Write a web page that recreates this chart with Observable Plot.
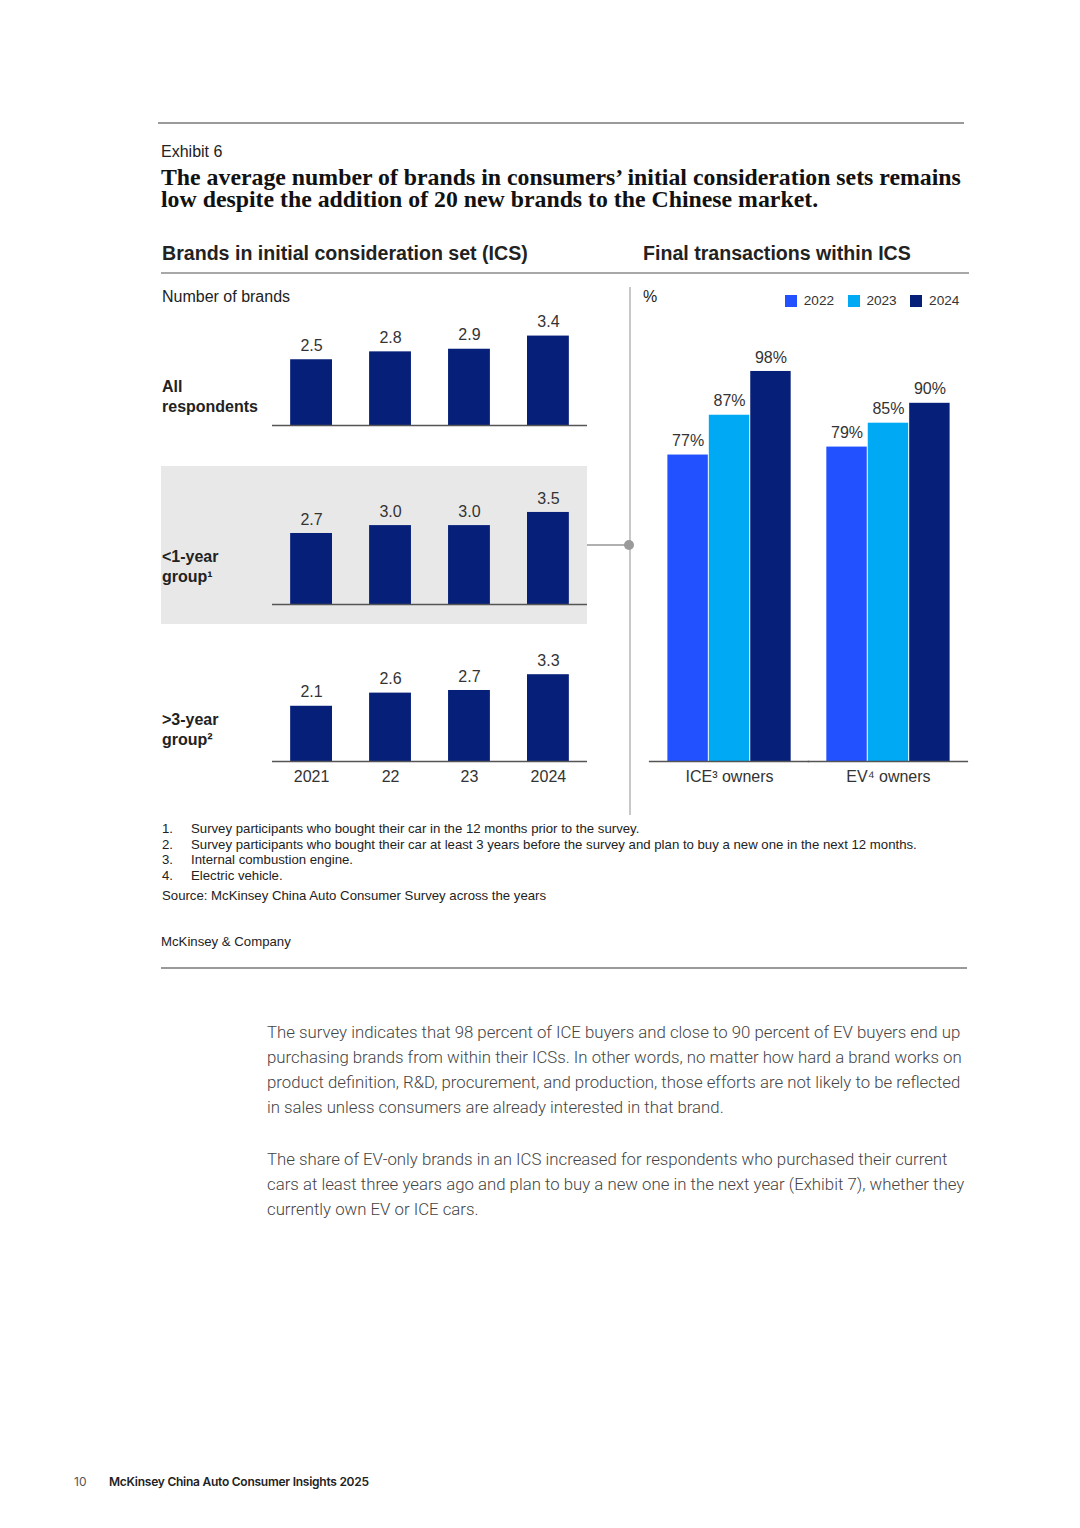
<!DOCTYPE html>
<html>
<head>
<meta charset="utf-8">
<script src="https://cdn.jsdelivr.net/npm/d3@7"></script>
<script src="https://cdn.jsdelivr.net/npm/@observablehq/plot@0.6"></script>
<style>
  html, body { margin: 0; padding: 0; background: #fff; }
  #page { position: relative; width: 1080px; height: 1528px; overflow: hidden; background: #fff;
          font-family: "Liberation Sans", Arial, sans-serif; color: #222; }
  .abs { position: absolute; white-space: nowrap; }
  .rule { position: absolute; background: #9a9a9a; }
  .hdr { font-size: 19.6px; font-weight: bold; line-height: 24px; color: #222; }
  .row { font-size: 16px; font-weight: bold; line-height: 20px; color: #222; }
  .fn { font-size: 13.2px; line-height: 15.6px; color: #222; }
  .body { font-family: Roboto, "Open Sans", sans-serif; font-weight: 300; font-size: 16.8px; line-height: 25px; color: #444; }
</style>
</head>
<body>
<div id="page">
  <div class="rule" style="left:158px; top:122px; width:806px; height:1.5px;"></div>
  <div class="abs" style="left:161px; top:142px; font-size:16px; line-height:20px;">Exhibit 6</div>
  <div class="abs" style="left:161px; top:166px; font-family:'Liberation Serif','DejaVu Serif',serif; font-weight:bold; font-size:23.8px; line-height:22px; color:#111;">The average number of brands in consumers’ initial consideration sets remains<br>low despite the addition of 20 new brands to the Chinese market.</div>

  <div class="abs hdr" style="left:162px; top:241px;">Brands in initial consideration set (ICS)</div>
  <div class="abs hdr" style="left:643px; top:241px;">Final transactions within ICS</div>
  <div class="rule" style="left:161px; top:272px; width:808px; height:2px; background:#a8a8a8;"></div>

  <div class="abs" style="left:162px; top:287px; font-size:16px; line-height:20px;">Number of brands</div>
  <div class="abs" style="left:643px; top:287px; font-size:16px; line-height:20px;">%</div>

  <div style="position:absolute; left:161px; top:466px; width:426px; height:158px; background:#e8e8e8;"></div>

  <div class="abs row" style="left:162px; top:377px;">All<br>respondents</div>
  <div class="abs row" style="left:162px; top:547px;">&lt;1-year<br>group¹</div>
  <div class="abs row" style="left:162px; top:710px;">&gt;3-year<br>group²</div>

  <div style="position:absolute; left:629px; top:287px; width:1.5px; height:528px; background:#c8c8c8;"></div>
  <div style="position:absolute; left:587px; top:544px; width:42px; height:1.5px; background:#b0b0b0;"></div>
  <div style="position:absolute; left:624px; top:540px; width:10px; height:10px; border-radius:50%; background:#9a9a9a;"></div>

  <div id="c1" style="position:absolute; left:272px; top:300px;"></div>
  <div id="c2" style="position:absolute; left:272px; top:479px;"></div>
  <div id="c3" style="position:absolute; left:272px; top:636px;"></div>
  <div id="cr" style="position:absolute; left:651px; top:300px;"></div>
  <div id="legend" style="position:absolute; left:785px; top:293px;"></div>

  <div class="abs fn" style="left:162px; top:821px;">1.<br>2.<br>3.<br>4.</div>
  <div class="abs fn" style="left:191px; top:821px;">Survey participants who bought their car in the 12 months prior to the survey.<br>Survey participants who bought their car at least 3 years before the survey and plan to buy a new one in the next 12 months.<br>Internal combustion engine.<br>Electric vehicle.</div>
  <div class="abs fn" style="left:162px; top:888px;">Source: McKinsey China Auto Consumer Survey across the years</div>
  <div class="abs fn" style="left:161px; top:934px;">McKinsey &amp; Company</div>
  <div class="rule" style="left:161px; top:967px; width:806px; height:1.5px;"></div>

  <div class="abs body" style="left:267px; top:1020px;">The survey indicates that 98 percent of ICE buyers and close to 90 percent of EV buyers end up<br>purchasing brands from within their ICSs. In other words, no matter how hard a brand works on<br>product definition, R&amp;D, procurement, and production, those efforts are not likely to be reflected<br>in sales unless consumers are already interested in that brand.</div>
  <div class="abs body" style="left:267px; top:1147px;">The share of EV-only brands in an ICS increased for respondents who purchased their current<br>cars at least three years ago and plan to buy a new one in the next year (Exhibit 7), whether they<br>currently own EV or ICE cars.</div>

  <div class="abs" style="left:74px; top:1474px; font-family:Inter,'Noto Sans',sans-serif; font-size:12px; line-height:16px; color:#555;">10</div>
  <div class="abs" style="left:109px; top:1474px; font-family:Inter,'Noto Sans',sans-serif; font-weight:600; font-size:12px; line-height:16px; color:#222; letter-spacing:-0.25px;">McKinsey China Auto Consumer Insights 2025</div>
</div>
<script>
// ---- Data ----
const yearsLeft = ["2021", "22", "23", "2024"];
const allRespondents = [2.5, 2.8, 2.9, 3.4];
const lessThan1Year = [2.7, 3.0, 3.0, 3.5];
const moreThan3Year = [2.1, 2.6, 2.7, 3.3];

const ownerGroups = ["ICE", "EV"];
const ownerGroupLabels = ["ICE³ owners", "EV⁴ owners"];
const yearsRight = ["2022", "2023", "2024"];
const iceOwners = [77, 87, 98];
const evOwners = [79, 85, 90];

const navy = "#061f79";
const yearColors = ["#2251ff", "#00a9f4", "#061f79"];
const fontFamily = "'Liberation Sans', Arial, sans-serif";

function smallBars(values, showAxis) {
  const inner = 125;
  const mb = showAxis ? 32 : 2;
  const data = yearsLeft.map((y, i) => ({year: y, value: values[i]}));
  return Plot.plot({
    width: 315, height: inner + mb,
    marginTop: 0, marginBottom: mb, marginLeft: 0, marginRight: 0,
    style: {background: "transparent", fontFamily, fontSize: "16px", color: "#333", overflow: "visible"},
    x: {domain: yearsLeft, paddingInner: 0.47, paddingOuter: 0.23, round: false, axis: showAxis ? "bottom" : null, tickSize: 0, tickPadding: 9, label: null},
    y: {domain: [0, 4], range: [inner, inner - 105.2], axis: null},
    marks: [
      Plot.barY(data, {x: "year", y: "value", fill: navy}),
      Plot.ruleY([0], {stroke: "#555", strokeWidth: 1.5}),
      Plot.text(data, {x: "year", y: "value", text: d => d.value.toFixed(1), dy: -14, fill: "#333", fontSize: 16})
    ]
  });
}

document.getElementById("c1").append(smallBars(allRespondents, false));
document.getElementById("c2").append(smallBars(lessThan1Year, false));
document.getElementById("c3").append(smallBars(moreThan3Year, true));

const rightData = ownerGroups.flatMap((g, gi) =>
  yearsRight.map((y, i) => ({group: g, year: y, value: (gi === 0 ? iceOwners : evOwners)[i]})));

const innerR = 461;
const right = Plot.plot({
  width: 315, height: innerR + 40,
  marginTop: 0, marginBottom: 40, marginLeft: 0, marginRight: 0,
  style: {background: "transparent", fontFamily, fontSize: "16px", color: "#333", overflow: "visible"},
  facet: {data: rightData, x: "group", marginBottom: 40, marginTop: 0, marginLeft: 0, marginRight: 0},
  fx: {domain: ownerGroups, paddingInner: 0.218, paddingOuter: 0.10, round: false, axis: "bottom", tickSize: 0, tickPadding: 9, label: null,
       tickFormat: d => ownerGroupLabels[ownerGroups.indexOf(d)]},
  x: {domain: yearsRight, padding: 0, round: false, axis: null},
  y: {domain: [0, 100], range: [innerR, innerR - 398], axis: null},
  color: {domain: yearsRight, range: yearColors},
  marks: [
    Plot.barY(rightData, {x: "year", y: "value", fill: "year", insetLeft: 0.5, insetRight: 0.5}),
    Plot.text(rightData, {x: "year", y: "value", text: d => d.value + "%", dy: -14, fill: "#333", fontSize: 16}),
    Plot.ruleY([0], {stroke: "#555", strokeWidth: 1.5, insetLeft: -18, insetRight: -18})
  ]
});
document.getElementById("cr").append(right);

const legend = Plot.legend({
  color: {domain: yearsRight, range: yearColors},
  legend: "swatches",
  swatchSize: 12,
  style: {fontFamily, fontSize: "13.6px", color: "#333", background: "transparent", minHeight: "0px"}
});
document.getElementById("legend").append(legend);
</script>
</body>
</html>
